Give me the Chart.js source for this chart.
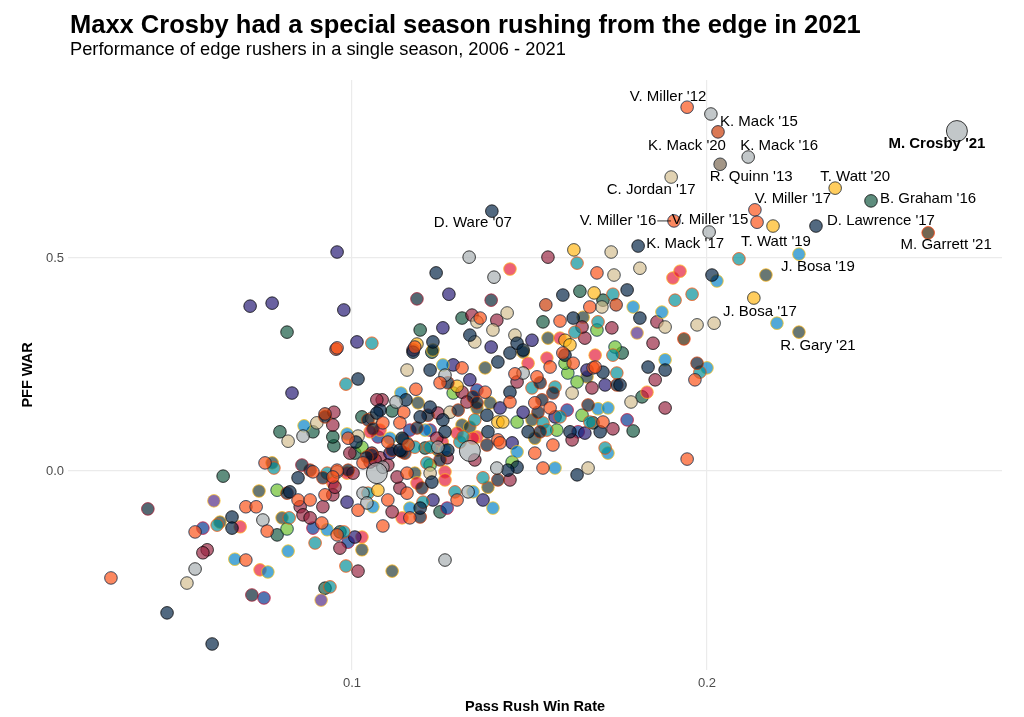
<!DOCTYPE html>
<html lang="en">
<head>
  <meta charset="UTF-8" />
  <title>Maxx Crosby had a special season rushing from the edge in 2021</title>
  <script src="https://cdn.jsdelivr.net/npm/chart.js"></script>
  <style>
    body {
      margin: 0;
      background: #fff;
      font-family: 'Liberation Sans', Arial, sans-serif;
    }
    .wrap {
      position: relative;
      width: 1024px;
      height: 717px;
    }
    canvas {
      position: absolute;
      left: 0;
      top: 0;
    }
    h1, h2 {
      position: absolute;
      left: 70px;
      margin: 0;
      line-height: 1;
      color: #000;
      white-space: nowrap;
    }
    h1 { top: 11.5px; font-size: 25.5px; font-weight: 700; }
    h2 { top: 40px; font-size: 18.3px; font-weight: 400; }
  </style>
</head>
<body>
  <div class="wrap">
    <canvas id="warChart" width="1024" height="717"></canvas>
    <h1>Maxx Crosby had a special season rushing from the edge in 2021</h1>
    <h2>Performance of edge rushers in a single season, 2006 - 2021</h2>
  </div>

  <script>
  // [pass rush win rate, PFF WAR] per player season, grouped by team colour
  const crosby = [[0.2704, 0.798], [0.107, -0.005], [0.1332, 0.047]];
  const orange = [[0.1944, 0.854], [0.2135, 0.613], [0.2141, 0.584], [0.1907, 0.587], [0.169, 0.465], [0.167, 0.385], [0.1594, 0.277], [0.1623, 0.253], [0.1679, 0.242], [0.1966, 0.214], [0.1944, 0.028], [0.1707, 0.115], [0.1521, 0.221], [0.1459, 0.228], [0.1375, 0.185], [0.1445, 0.162], [0.1515, 0.16], [0.1558, 0.148], [0.1411, 0.073], [0.1566, 0.061], [0.1515, 0.042], [0.1538, 0.007], [0.1417, 0.066], [0.1296, -0.068], [0.1155, -0.052], [0.1101, -0.068], [0.1087, -0.129], [0.1163, -0.11], [0.1155, -0.005], [0.1031, 0.019], [0.0958, 0.002], [0.1017, -0.092], [0.0958, -0.15], [0.0321, -0.251], [0.0558, -0.143], [0.0701, -0.084], [0.073, -0.084], [0.0761, -0.141], [0.0701, -0.209], [0.0848, -0.068], [0.0882, -0.068], [0.0946, -0.014], [0.0924, -0.056], [0.0915, -0.122], [0.0755, 0.019], [0.089, -0.002], [0.0989, 0.077], [0.0958, 0.289], [0.118, 0.192], [0.1146, 0.138], [0.1087, 0.113], [0.1135, 0.113], [0.1101, 0.068], [0.1158, 0.061], [0.1248, 0.207], [0.131, 0.242], [0.1177, 0.291], [0.1361, 0.359], [0.1685, 0.244], [0.1586, 0.352], [0.1558, 0.244]];
  const rust = [[0.2031, 0.796], [0.1546, 0.39], [0.1744, 0.39], [0.0955, 0.286], [0.0924, 0.134]];
  const silver = [[0.2011, 0.838], [0.2116, 0.737], [0.2006, 0.561], [0.133, 0.502], [0.14, 0.455], [0.1482, 0.23], [0.1262, 0.225], [0.1124, 0.162], [0.0862, 0.082], [0.0958, -0.002], [0.1031, -0.052], [0.1327, -0.049], [0.1408, 0.007], [0.1262, -0.209], [0.0749, -0.115], [0.0558, -0.23], [0.1087, 0.009], [0.1242, 0.056], [0.1042, -0.075]];
  const navy = [[0.2307, 0.575], [0.1806, 0.528], [0.1394, 0.61], [0.1237, 0.465], [0.2014, 0.46], [0.1775, 0.425], [0.1594, 0.413], [0.1811, 0.359], [0.1623, 0.359], [0.1834, 0.244], [0.1707, 0.232], [0.1882, 0.237], [0.1755, 0.202], [0.122, 0.237], [0.1152, 0.167], [0.1079, 0.143], [0.1192, 0.127], [0.122, 0.15], [0.1256, 0.12], [0.1262, 0.092], [0.1141, 0.077], [0.1135, 0.049], [0.1411, 0.256], [0.1445, 0.277], [0.16, 0.272], [0.1465, 0.3], [0.1482, 0.284], [0.1332, 0.319], [0.1228, 0.303], [0.1445, 0.185], [0.138, 0.131], [0.1496, 0.092], [0.1383, 0.092], [0.1699, 0.092], [0.1614, 0.092], [0.1465, 0.009], [0.1634, -0.009], [0.1439, 0.002], [0.127, 0.049], [0.1225, -0.026], [0.1192, -0.087], [0.0479, -0.333], [0.0606, -0.406], [0.0662, -0.108], [0.0662, -0.134], [0.0825, -0.049], [0.0848, -0.016], [0.1011, 0.068], [0.1017, 0.216], [0.107, 0.136], [0.1172, 0.279]];
  const texans = [[0.0425, -0.089], [0.0718, -0.291], [0.1183, 0.404], [0.1392, 0.401], [0.0859, 0.014]];
  const bears = [[0.1972, 0.253], [0.1045, 0.12], [0.0924, 0.127], [0.127, 0.207], [0.1341, 0.174], [0.1299, 0.143], [0.1352, 0.16], [0.1183, 0.101], [0.1214, 0.131], [0.1059, 0.099], [0.1113, 0.049], [0.1149, 0.042], [0.1056, 0.038], [0.1248, 0.026], [0.1411, -0.021], [0.138, 0.061], [0.1141, 0.045], [0.1192, -0.108], [0.1197, -0.04], [0.0817, -0.052], [0.0882, 0.002], [0.0918, -0.016], [0.0989, 0.002], [0.1042, 0.033], [0.153, 0.207], [0.1535, 0.167], [0.1524, 0.138], [0.153, 0.092], [0.1566, 0.183], [0.1746, 0.202], [0.1665, 0.155]];
  const tan = [[0.1899, 0.69], [0.173, 0.514], [0.1811, 0.476], [0.1738, 0.46], [0.1704, 0.385], [0.1972, 0.343], [0.202, 0.347], [0.1882, 0.338], [0.1786, 0.162], [0.1665, 0.007], [0.1437, 0.371], [0.1397, 0.331], [0.1352, 0.35], [0.1346, 0.303], [0.1459, 0.319], [0.1155, 0.237], [0.1056, 0.124], [0.1017, 0.082], [0.1276, 0.138], [0.122, -0.005], [0.0901, 0.113], [0.082, 0.07], [0.0535, -0.263], [0.162, 0.183]];
  const rams = [[0.2037, 0.72]];
  const gold = [[0.2361, 0.664], [0.2186, 0.575], [0.2132, 0.406], [0.1625, 0.519], [0.1682, 0.418], [0.16, 0.307], [0.1614, 0.296], [0.1296, 0.199], [0.1411, 0.115], [0.1425, 0.115], [0.1073, -0.045], [0.1183, 0.298]];
  const teal = [[0.209, 0.498], [0.1634, 0.488], [0.1735, 0.415], [0.1958, 0.415], [0.191, 0.401], [0.198, 0.232], [0.1746, 0.23], [0.1735, 0.272], [0.1628, 0.326], [0.0983, 0.204], [0.1056, 0.3], [0.1507, 0.195], [0.1572, 0.197], [0.1538, 0.113], [0.1586, 0.127], [0.167, 0.115], [0.1549, 0.096], [0.1713, 0.054], [0.1346, 0.12], [0.1369, -0.016], [0.129, -0.049], [0.12, -0.073], [0.1211, 0.019], [0.122, 0.056], [0.1155, 0.066], [0.1304, 0.068], [0.1177, 0.056], [0.1045, -0.052], [0.0823, -0.11], [0.093, -0.005], [0.0977, -0.143], [0.0896, -0.169], [0.062, -0.127], [0.078, 0.007], [0.1313, 0.08], [0.0938, -0.272], [0.0983, -0.223], [0.1693, 0.35]];
  const blue = [[0.2259, 0.509], [0.2197, 0.347], [0.2028, 0.446], [0.1792, 0.385], [0.1873, 0.373], [0.1882, 0.261], [0.2, 0.242], [0.1693, 0.146], [0.1721, 0.148], [0.1721, 0.042], [0.1572, 0.007], [0.1465, 0.045], [0.1341, -0.049], [0.1397, -0.087], [0.1163, -0.087], [0.1206, 0.096], [0.1262, 0.049], [0.1138, 0.183], [0.1107, 0.077], [0.1256, 0.249], [0.0865, 0.106], [0.0986, 0.087], [0.082, -0.188], [0.067, -0.207], [0.0763, -0.237], [0.093, -0.138], [0.1059, -0.084]];
  const purple = [[0.0958, 0.514], [0.0713, 0.387], [0.0775, 0.394], [0.0977, 0.378], [0.1014, 0.303], [0.0831, 0.183], [0.1273, 0.415], [0.1256, 0.336], [0.1392, 0.291], [0.1507, 0.307], [0.1285, 0.249], [0.1332, 0.214], [0.1417, 0.148], [0.1482, 0.138], [0.1572, 0.127], [0.1656, 0.089], [0.1713, 0.202], [0.1451, 0.066], [0.1369, -0.068], [0.1228, -0.068], [0.0986, -0.073], [0.1008, -0.155], [0.1107, 0.042], [0.1662, 0.237]];
  const violet = [[0.1803, 0.324], [0.0611, -0.07], [0.0913, -0.303]];
  const crimson = [[0.1552, 0.502], [0.1859, 0.35], [0.1848, 0.3], [0.1882, 0.148], [0.1854, 0.214], [0.1735, 0.099], [0.1732, 0.336], [0.1656, 0.312], [0.1648, 0.338], [0.1676, 0.195], [0.162, 0.073], [0.1465, 0.209], [0.1408, 0.354], [0.1338, 0.366], [0.1172, 0.284], [0.131, 0.185], [0.1324, 0.162], [0.1242, 0.136], [0.1239, 0.077], [0.1085, 0.167], [0.0949, 0.138], [0.0946, 0.108], [0.1051, 0.021], [0.1079, 0.031], [0.1101, 0.014], [0.1268, 0.031], [0.1346, 0.026], [0.1445, -0.021], [0.1135, -0.04], [0.1127, -0.014], [0.1113, -0.096], [0.1065, 0.026], [0.1003, -0.005], [0.0994, 0.042], [0.0946, -0.056], [0.0952, -0.038], [0.0918, -0.084], [0.0854, -0.084], [0.0862, -0.103], [0.0882, -0.11], [0.0966, -0.181], [0.0592, -0.185], [0.058, -0.192], [0.1017, -0.235], [0.1056, 0.042], [0.107, 0.167]];
  const red = [[0.1445, 0.474], [0.1904, 0.453], [0.1924, 0.469], [0.1685, 0.272], [0.1831, 0.185], [0.1496, 0.253], [0.1549, 0.265], [0.1586, 0.312], [0.1352, 0.08], [0.1296, 0.089], [0.1254, 0.068], [0.1341, 0.077], [0.1079, 0.096], [0.1051, 0.092], [0.1262, -0.002], [0.1262, -0.021], [0.1183, -0.028], [0.1141, -0.11], [0.1028, -0.155], [0.0986, -0.005], [0.0946, -0.028], [0.0685, -0.131], [0.0741, -0.232]];
  const bills = [[0.0752, -0.298], [0.058, -0.134], [0.1775, 0.12], [0.1637, 0.092], [0.1606, 0.143], [0.0989, -0.167], [0.1268, -0.087], [0.1073, 0.08], [0.1163, 0.096], [0.122, 0.096], [0.1352, 0.19], [0.089, -0.134]];
  const green = [[0.169, 0.331], [0.1741, 0.291], [0.1648, 0.131], [0.1608, 0.23], [0.1634, 0.209], [0.16, 0.253], [0.1577, 0.096], [0.1465, 0.115], [0.1451, 0.021], [0.1285, 0.183], [0.122, 0.014], [0.1028, 0.056], [0.0789, -0.045], [0.0817, -0.136]];
  const olive = [[0.2166, 0.46], [0.2259, 0.326], [0.1651, 0.361], [0.1552, 0.312], [0.1662, 0.221], [0.1375, 0.242], [0.1482, 0.279], [0.1389, 0.16], [0.1352, 0.148], [0.1507, 0.12], [0.1515, 0.077], [0.131, 0.108], [0.1332, 0.103], [0.1186, 0.16], [0.1228, 0.284], [0.1144, 0.075], [0.1242, 0.049], [0.1383, -0.038], [0.1177, -0.005], [0.1113, -0.235], [0.1028, -0.185], [0.0738, -0.047], [0.0775, 0.019], [0.0628, -0.12], [0.0803, -0.11]];
  const brown = [[0.2623, 0.559], [0.1935, 0.31]];
  const jets = [[0.2462, 0.634], [0.1642, 0.422], [0.1707, 0.401], [0.1538, 0.35], [0.131, 0.359], [0.1192, 0.331], [0.1817, 0.174], [0.1679, 0.113], [0.1792, 0.094], [0.1761, 0.277], [0.0817, 0.326], [0.0797, 0.092], [0.089, 0.092], [0.0949, 0.059], [0.1028, 0.127], [0.1113, 0.141], [0.1206, 0.054], [0.1248, -0.096], [0.0637, -0.012], [0.0789, -0.15], [0.0966, -0.143], [0.0946, 0.08], [0.1225, 0.279], [0.1008, 0.042], [0.0924, -0.275]];

  const xTicks = [0.1, 0.2];
  const yTicks = [0.0, 0.5];

  // labelled seasons and the point each label belongs to
  const labelText = ["V. Miller '12", "K. Mack '15", "K. Mack '20", "K. Mack '16", "R. Quinn '13", "C. Jordan '17",
    "T. Watt '20", "V. Miller '17", "B. Graham '16", "V. Miller '16", "V. Miller '15", "D. Lawrence '17",
    "M. Garrett '21", "K. Mack '17", "T. Watt '19", "J. Bosa '19", "J. Bosa '17", "R. Gary '21", "D. Ware '07", "M. Crosby '21"];
  const labelPrwr = [0.1944, 0.2011, 0.2031, 0.2116, 0.2037, 0.1899, 0.2361, 0.2135, 0.2462, 0.1907, 0.2141, 0.2307,
    0.2623, 0.1806, 0.2186, 0.2166, 0.2132, 0.2259, 0.1394, 0.2704];
  const labelWar = [0.854, 0.838, 0.796, 0.737, 0.72, 0.69, 0.664, 0.613, 0.634, 0.587, 0.584, 0.575,
    0.559, 0.528, 0.575, 0.46, 0.406, 0.326, 0.61, 0.798];

  // text nudges in pixels (label layout only)
  const nudge = [[-19, -10], [48, 8], [-31, 14], [31, -11], [31, 13], [-20, 13], [20, -11], [38, -11], [57, -2],
    [-56, 0], [-47, -2], [65, -5], [18, 12], [47, -2], [3, 16], [52, -8], [6, 14], [19, 14], [-19, 12], [-20, 13]];

  const palette = {
    crosby:  { pts: crosby,  fill: [165, 172, 175], line: [0, 0, 0], r: 10.5 },
    orange:  { pts: orange,  fill: [251, 79, 20],   line: [0, 34, 68] },
    rust:    { pts: rust,    fill: [200, 56, 3],    line: [11, 22, 42] },
    silver:  { pts: silver,  fill: [165, 172, 175], line: [0, 0, 0] },
    navy:    { pts: navy,    fill: [0, 34, 68],     line: [0, 0, 0] },
    texans:  { pts: texans,  fill: [3, 32, 47],     line: [167, 25, 48] },
    bears:   { pts: bears,   fill: [11, 22, 42],    line: [200, 56, 3] },
    tan:     { pts: tan,     fill: [211, 188, 141], line: [16, 24, 32] },
    rams:    { pts: rams,    fill: [120, 100, 78],  line: [16, 24, 32] },
    gold:    { pts: gold,    fill: [255, 182, 18],  line: [16, 24, 32] },
    teal:    { pts: teal,    fill: [0, 142, 151],   line: [252, 76, 2] },
    blue:    { pts: blue,    fill: [0, 128, 198],   line: [255, 194, 14] },
    purple:  { pts: purple,  fill: [36, 23, 115],   line: [0, 0, 0] },
    violet:  { pts: violet,  fill: [79, 38, 131],   line: [255, 198, 47] },
    crimson: { pts: crimson, fill: [151, 35, 63],   line: [0, 0, 0] },
    red:     { pts: red,     fill: [227, 24, 55],   line: [255, 184, 28] },
    bills:   { pts: bills,   fill: [0, 51, 141],    line: [198, 12, 48] },
    green:   { pts: green,   fill: [105, 190, 40],  line: [0, 34, 68] },
    olive:   { pts: olive,   fill: [32, 55, 49],    line: [255, 182, 18] },
    brown:   { pts: brown,   fill: [49, 29, 0],     line: [255, 60, 0] },
    jets:    { pts: jets,    fill: [18, 87, 64],    line: [0, 0, 0] }
  };

  const rgba = (c, a) => 'rgba(' + c[0] + ',' + c[1] + ',' + c[2] + ',' + a + ')';

  const datasets = Object.keys(palette).map(key => {
    const g = palette[key];
    return {
      label: key,
      data: g.pts.map(p => ({ x: p[0], y: p[1] })),
      backgroundColor: rgba(g.fill, 0.68),
      borderColor: rgba(g.line, 0.75),
      borderWidth: 1,
      pointRadius: g.r || 6.3,
      pointHoverRadius: g.r || 6.3
    };
  });

  const annotations = {
    id: 'annotations',
    afterDatasetsDraw(chart) {
      const { ctx, chartArea: a } = chart;
      const xs = chart.scales.x, ys = chart.scales.y;
      ctx.save();
      ctx.fillStyle = '#000';
      ctx.strokeStyle = '#000';
      ctx.textAlign = 'center';
      ctx.textBaseline = 'middle';
      labelText.forEach((t, i) => {
        const px = xs.getPixelForValue(labelPrwr[i]);
        const py = ys.getPixelForValue(labelWar[i]);
        ctx.font = (t.indexOf('Crosby') >= 0 ? 'bold ' : 'normal ') + '15px "Liberation Sans", Arial, sans-serif';
        const tx = px + nudge[i][0], ty = py + nudge[i][1];
        ctx.fillText(t, tx, ty);
        if (t === "V. Miller '16") {
          const w = ctx.measureText(t).width;
          ctx.lineWidth = 0.8;
          ctx.beginPath();
          ctx.moveTo(tx + w / 2 + 1, ty);
          ctx.lineTo(px - 3, py);
          ctx.stroke();
        }
      });

      ctx.font = 'bold 14.5px "Liberation Sans", Arial, sans-serif';
      ctx.fillText('Pass Rush Win Rate', (a.left + a.right) / 2, 707);
      ctx.translate(28, (a.top + a.bottom) / 2);
      ctx.rotate(-Math.PI / 2);
      ctx.fillText('PFF WAR', 0, 0);
      ctx.restore();
    }
  };

  new Chart(document.getElementById('warChart').getContext('2d'), {
    type: 'scatter',
    data: { datasets: datasets },
    options: {
      responsive: false,
      animation: false,
      events: [],
      layout: { padding: { top: 80, right: 22, bottom: 0, left: 0 } },
      plugins: {
        legend: { display: false },
        tooltip: { enabled: false }
      },
      scales: {
        x: {
          type: 'linear',
          min: 0.02,
          max: 0.2831,
          afterBuildTicks: s => { s.ticks = xTicks.map(v => ({ value: v })); },
          afterFit: s => { s.height = 47; },
          border: { display: false },
          grid: { color: '#EBEBEB', lineWidth: 1.2, drawTicks: false },
          ticks: {
            padding: 6,
            color: '#4D4D4D',
            font: { family: '"Liberation Sans", Arial, sans-serif', size: 13 },
            callback: v => v.toFixed(1)
          }
        },
        y: {
          type: 'linear',
          min: -0.4671,
          max: 0.9178,
          afterBuildTicks: s => { s.ticks = yTicks.map(v => ({ value: v })); },
          afterFit: s => { s.width = 68; },
          border: { display: false },
          grid: { color: '#EBEBEB', lineWidth: 1.2, drawTicks: false },
          ticks: {
            padding: 4,
            color: '#4D4D4D',
            font: { family: '"Liberation Sans", Arial, sans-serif', size: 13 },
            callback: v => v.toFixed(1)
          }
        }
      }
    },
    plugins: [annotations]
  });
  </script>
</body>
</html>
